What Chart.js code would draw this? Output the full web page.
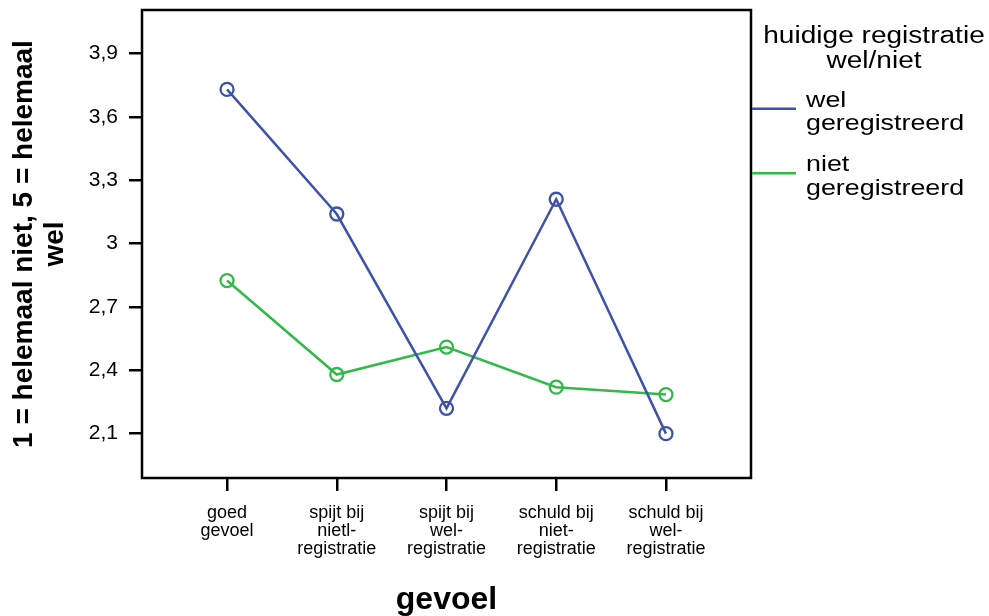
<!DOCTYPE html>
<html>
<head>
<meta charset="utf-8">
<script src="https://cdn.jsdelivr.net/npm/chart.js@4/dist/chart.umd.min.js"></script>
<style>
  html, body { margin: 0; padding: 0; background: #fff; }
  #wrap { width: 989px; height: 616px; position: relative; }
</style>
</head>
<body>
<div id="wrap"><canvas id="grafiek"></canvas></div>
<script>
// gegevens

const categories = [
  ['goed', 'gevoel'],
  ['spijt bij', 'nietl-', 'registratie'],
  ['spijt bij', 'wel-', 'registratie'],
  ['schuld bij', 'niet-', 'registratie'],
  ['schuld bij', 'wel-', 'registratie']
]
const welGeregistreerd = [3.73, 3.14, 2.22, 3.21, 2.10]
const nietGeregistreerd = [2.825, 2.38, 2.51, 2.32, 2.285]
const yTicks = [2.1, 2.4, 2.7, 3.0, 3.3, 3.6, 3.9]
const yTickLabels = ['2,1', '2,4', '2,7', '3', '3,3', '3,6', '3,9']
const seriesLabels = [['wel', 'geregistreerd'], ['niet', 'geregistreerd']]
const legendTitle = ['huidige registratie', 'wel/niet']

const fontFamily = "'Liberation Sans', Arial, Helvetica, sans-serif"
const blauw = '#3d52a8'
const groen = '#33b84a'

// kader om het plotgebied

const kaderPlugin = {
  id: 'kader',
  beforeDatasetsDraw(chart) {
    const a = chart.chartArea
    const ctx = chart.ctx
    ctx.save()
    ctx.strokeStyle = '#000'
    ctx.lineWidth = 2.5
    ctx.strokeRect(a.left, a.top, a.right - a.left, a.bottom - a.top)
    ctx.restore()
  }
}

// legenda rechts (SPSS-stijl, tekst iets breed getrokken)

const legendaPlugin = {
  id: 'legenda',
  afterDraw(chart) {
    const a = chart.chartArea
    const ctx = chart.ctx
    const stretch = 1.22
    ctx.save()
    ctx.fillStyle = '#000'
    ctx.textBaseline = 'alphabetic'

    ctx.font = '23px ' + fontFamily
    ctx.textAlign = 'center'
    legendTitle.forEach((t, i) => {
      ctx.save()
      ctx.translate(a.right + 123, a.top + 33 + i * 25)
      ctx.scale(stretch, 1)
      ctx.fillText(t, 0, 0)
      ctx.restore()
    })

    ctx.font = '22px ' + fontFamily
    ctx.textAlign = 'left'
    chart.data.datasets.forEach((ds, i) => {
      const y = a.top + 98.7 + i * 64.6
      ctx.strokeStyle = ds.borderColor
      ctx.lineWidth = 2.5
      ctx.beginPath()
      ctx.moveTo(a.right + 1, y)
      ctx.lineTo(a.right + 45, y)
      ctx.stroke()
      seriesLabels[i].forEach((t, j) => {
        ctx.save()
        ctx.translate(a.right + 55, y - 2 + j * 23.3)
        ctx.scale(stretch, 1)
        ctx.fillText(t, 0, 0)
        ctx.restore()
      })
    })
    ctx.restore()
  }
}

let ctxGrafiek = document.getElementById('grafiek')

new Chart(ctxGrafiek, {
  type: 'line',
  data: {
    datasets: [{
      label: seriesLabels[0].join(' '),
      data: welGeregistreerd.map((v, i) => ({ x: i, y: v })),
      borderColor: blauw,
      borderWidth: 2.5,
      pointRadius: 6.5,
      pointBorderWidth: 2.3,
      pointBorderColor: blauw,
      pointBackgroundColor: 'rgba(0,0,0,0)',
      tension: 0
    }, {
      label: seriesLabels[1].join(' '),
      data: nietGeregistreerd.map((v, i) => ({ x: i, y: v })),
      borderColor: groen,
      borderWidth: 2.5,
      pointRadius: 6.5,
      pointBorderWidth: 2.3,
      pointBorderColor: groen,
      pointBackgroundColor: 'rgba(0,0,0,0)',
      tension: 0
    }]
  },
  options: {
    responsive: true,
    maintainAspectRatio: false,
    animation: false,
    layout: {
      padding: { top: 10, right: 238, left: 0, bottom: 0 }
    },
    plugins: {
      legend: { display: false },
      tooltip: { enabled: false },
      title: { display: false }
    },
    scales: {
      x: {
        type: 'linear',
        min: -0.775,
        max: 4.775,
        afterBuildTicks: scale => {
          scale.ticks = categories.map((c, i) => ({ value: i }))
        },
        afterFit: scale => {
          scale.height = 138
          scale.paddingLeft = 0
          scale.paddingRight = 0
        },
        grid: {
          display: true,
          drawOnChartArea: false,
          drawTicks: true,
          tickLength: 13,
          color: '#000',
          lineWidth: 2.5
        },
        border: { display: false },
        ticks: {
          autoSkip: false,
          maxRotation: 0,
          padding: 13,
          color: '#000',
          font: { family: fontFamily, size: 18, lineHeight: 1 },
          callback: (value, index) => categories[index]
        },
        title: {
          display: true,
          text: 'gevoel',
          color: '#000',
          padding: 0,
          font: { family: fontFamily, size: 32, weight: 'bold', lineHeight: 1 }
        }
      },
      y: {
        min: 1.89,
        max: 4.106,
        afterBuildTicks: scale => {
          scale.ticks = yTicks.map(v => ({ value: v }))
        },
        afterFit: scale => {
          scale.width = 142
          scale.paddingTop = 0
          scale.paddingBottom = 0
        },
        grid: {
          display: true,
          drawOnChartArea: false,
          drawTicks: true,
          tickLength: 13,
          color: '#000',
          lineWidth: 2.5
        },
        border: { display: false },
        ticks: {
          padding: 11,
          color: '#000',
          font: { family: fontFamily, size: 21 },
          callback: (value, index) => yTickLabels[index]
        },
        title: {
          display: true,
          text: ['1 = helemaal niet, 5 = helemaal', 'wel'],
          color: '#000',
          padding: { top: 9, bottom: 0 },
          font: { family: fontFamily, size: 28, weight: 'bold', lineHeight: 1.1 }
        }
      }
    }
  },
  plugins: [kaderPlugin, legendaPlugin]
});
</script>
</body>
</html>
